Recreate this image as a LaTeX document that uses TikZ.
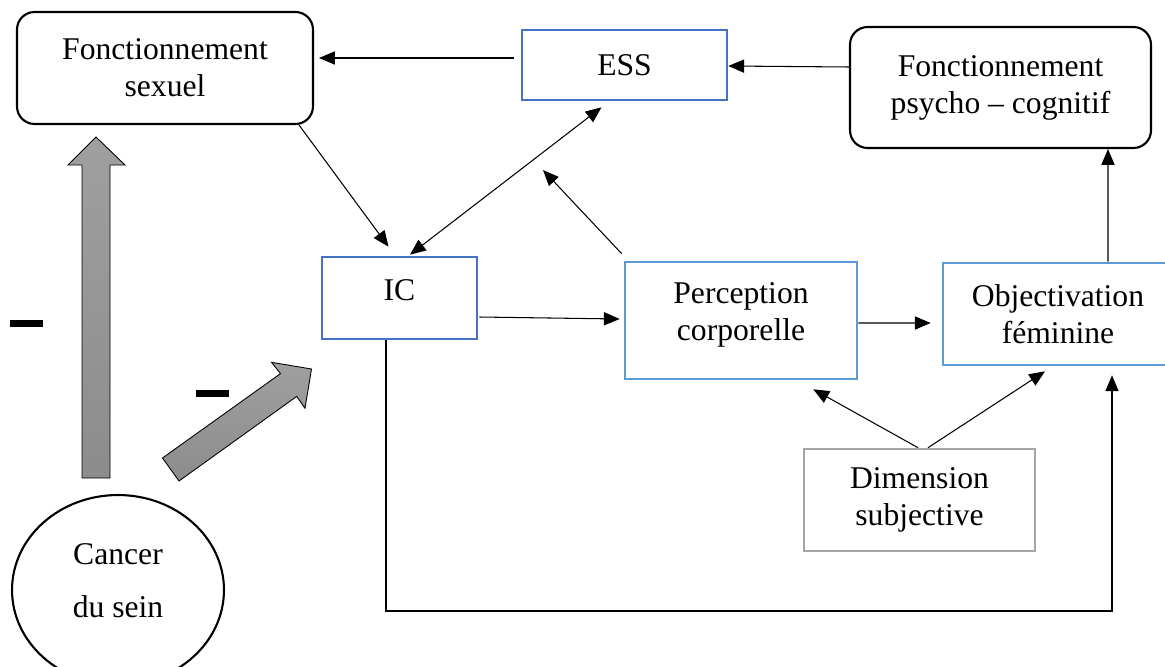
\documentclass[tikz,border=0pt]{standalone}
\usepackage{fontspec}
\setmainfont{Liberation Serif}
\usetikzlibrary{arrows.meta,shapes.geometric}

\definecolor{icblue}{HTML}{4472C4}
\definecolor{lightblue}{HTML}{5B9BD5}
\definecolor{boxgray}{HTML}{A5A5A5}

\tikzset{
	conn/.style={-{Triangle[length=9pt,width=7.5pt]}, line width=0.6pt},
	roundbox/.style={rectangle, rounded corners=0.35cm, draw=black, line width=1.2pt, align=center},
	darkbox/.style={rectangle, draw=icblue, line width=1.5pt, align=center},
	lightbox/.style={rectangle, draw=lightblue, line width=1.5pt, align=center},
	graybox/.style={rectangle, draw=boxgray, line width=1.5pt, align=center},
	blockarrow/.style={draw=black, line width=0.5pt, top color=gray!75, bottom color=gray!100!black!90}
}

\begin{document}
\begin{tikzpicture}[
		x=0.02cm, y=-0.02cm,
		every node/.style={font=\fontsize{18}{21}\selectfont, inner sep=0pt}
		]
		\useasboundingbox (0,0) rectangle (1165,666);
		
		% boites
		\node[roundbox, minimum width=5.92cm, minimum height=2.24cm] (sexuel) at (165,68) {Fonctionnement\\sexuel};
		\node[darkbox, minimum width=4.1cm, minimum height=1.4cm] (ess) at (624.5,65) {ESS};
		\node[roundbox, minimum width=6.02cm, minimum height=2.42cm] (psycho) at (1000.5,87.5) {Fonctionnement\\psycho -- cognitif};
		\node[darkbox, minimum width=3.1cm, minimum height=1.64cm, text depth=9pt] (ic) at (399.5,298) {IC};
		\node[lightbox, minimum width=4.64cm, minimum height=2.34cm, text depth=10pt] (perc) at (741,320.5) {Perception\\corporelle};
		\node[lightbox, minimum width=4.6cm, minimum height=2.04cm] (obj) at (1058,314) {Objectivation\\féminine};
		\node[graybox, minimum width=4.62cm, minimum height=2.04cm] (dim) at (919.5,500) {Dimension\\subjective};
		\node[ellipse, draw=black, line width=1.2pt, minimum width=4.24cm, minimum height=3.8cm, align=center, text depth=10.5pt] (cancer) at (118,590) {Cancer\\[9pt]du sein};
		
		% signes moins
		\node (moins1) at (26.5,323.5) {\rule{0.66cm}{0.14cm}};
		\node (moins2) at (212.5,393.5) {\rule{0.66cm}{0.14cm}};
		
		% grosses fleches
		\shade[blockarrow] (82,478) -- (82,165) -- (68,165) -- (96,137) -- (125,165) -- (110,165) -- (110,478) -- cycle;
		\shade[blockarrow] (162.5,458) -- (280.5,373.6) -- (271.5,362.3) -- (311.5,369) -- (305,408.3) -- (296.7,396.4) -- (179,481) -- cycle;
		
		% liaisons
		\coordinate (vide) at (543,170);
		\coordinate (bas) at (750,611);
		\draw[conn] ([shift={(-7,-7)}]ess.west) -- ([shift={(5,-10)}]sexuel.east);
		\draw[conn] ([shift={(0,-20.5)}]psycho.west) -- ([shift={(0,1)}]ess.east);
		\draw[conn] ([shift={(-15,0)}]sexuel.south east) -- ([shift={(-11,-9)}]ic.north);
		\draw[{Triangle[length=9pt,width=7.5pt]}-{Triangle[length=9pt,width=7.5pt]}, line width=0.6pt] ([shift={(10.5,-1)}]ic.north) -- ([shift={(-23,6)}]ess.south);
		\draw[conn] ([shift={(-2,-7)}]perc.north west) -- (vide);
		\draw[conn] ([shift={(1,19)}]ic.east) -- ([shift={(-4,-1.5)}]perc.west);
		\draw[conn] ([shift={(0,2.5)}]perc.east) -- ([shift={(-11,9)}]obj.west);
		\draw[conn] ([xshift=1cm]obj.north) -- ([xshift=2.15cm]psycho.south);
		\draw[conn] ([xshift=-0.03cm]dim.north) -- ([shift={(-45,9)}]perc.south east);
		\draw[conn] ([xshift=0.17cm]dim.north) -- ([shift={(-13,5)}]obj.south);
		\draw[conn] ([xshift=-0.27cm]ic.south) |- (bas) -| ([shift={(54,9)}]obj.south);
	\end{tikzpicture}
\end{document}
